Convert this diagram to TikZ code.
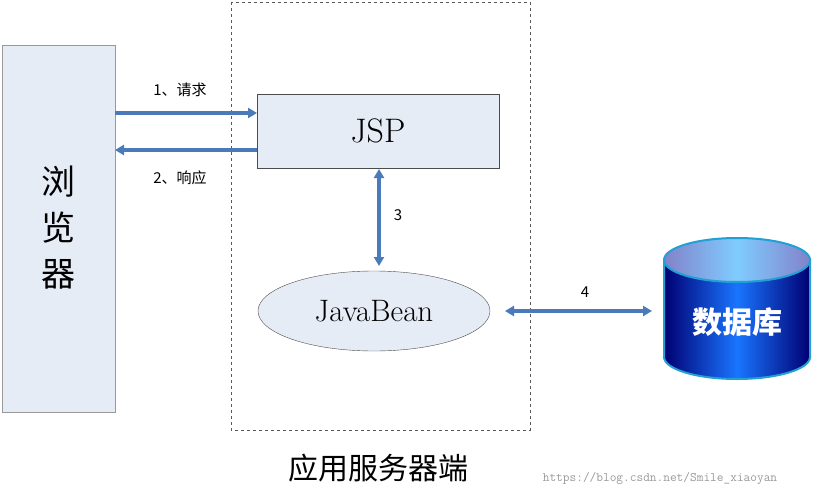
\documentclass[tikz,border=0pt]{standalone}
\usepackage{fontspec}
\newfontfamily\cjk{Noto Sans CJK SC}
\usetikzlibrary{arrows.meta,shapes.geometric}
\definecolor{arr}{RGB}{74,122,186}
\definecolor{boxf}{RGB}{230,236,246}
\begin{document}
\begin{tikzpicture}[x=1pt,y=-1pt,
  link/.style={draw=arr,line width=3.5pt,{Triangle[length=9pt,width=10pt]}-{Triangle[length=9pt,width=10pt]}},
  oneway/.style={draw=arr,line width=3.5pt,-{Triangle[length=9pt,width=10pt]}},
  lab/.style={font=\cjk\fontsize{15}{18}\selectfont}]
\useasboundingbox (0,0) rectangle (818,497);
\node[draw=gray!80,fill=boxf,minimum width=113pt,minimum height=367pt,inner sep=0pt] (br) at (58.5,228.5) {};
\node[font=\cjk\fontsize{34}{46}\selectfont,align=center] (brt) at (58.5,228) {浏\\览\\器};
\draw[dashed,gray!70!black,line width=0.6pt] (231,2) rectangle (530,430);
\node[draw=black!70,fill=boxf,minimum width=242pt,minimum height=74pt,inner sep=0pt,font=\fontsize{34}{40}\selectfont] (jsp) at (378,131) {JSP};
\node[draw=black!70,fill=boxf,ellipse,minimum width=232pt,minimum height=80pt,inner sep=0pt,font=\fontsize{31}{36}\selectfont] (jb) at (374,311) {JavaBean};
\coordinate (b1) at (115,113); \coordinate (j1) at (257,113);
\coordinate (b2) at (115,150); \coordinate (j2) at (257,150);
\draw[oneway] (b1) -- (j1);
\draw[oneway] (j2) -- (b2);
\node[lab] (l1) at (180,90) {1、请求};
\node[lab] (l2) at (180,178) {2、响应};
\coordinate (v1) at (379,169); \coordinate (v2) at (379,266);
\draw[link] (v1) -- (v2);
\node[lab] (l3) at (398,215) {3};
% cylinder
\shade[left color=blue!45!black,right color=blue!45!black,middle color=blue!60!cyan!90!white] (664,260) -- (664,357) arc[start angle=180,end angle=0,x radius=73,y radius=22] -- (810,260) -- cycle;
\shade[left color=gray!60!blue!70,right color=gray!60!blue!70,middle color=blue!40!cyan!50] (737,260) ellipse[x radius=73,y radius=22];
\draw[cyan!70!teal,line width=2pt] (737,260) ellipse[x radius=73,y radius=22];
\draw[cyan!70!teal,line width=2pt] (664,260) -- (664,357) arc[start angle=180,end angle=0,x radius=73,y radius=22] -- (810,260);
\node[font=\cjk\bfseries\fontsize{30}{34}\selectfont,text=white] (db) at (737,322) {数据库};
\coordinate (db4) at (652,311); \coordinate (jb4) at (505,311);
\draw[link] (jb4) -- (db4);
\node[lab] (l4) at (585,292) {4};
\node[font=\cjk\fontsize{30}{34}\selectfont] (srv) at (378,468) {应用服务器端};
\node[font=\ttfamily\fontsize{13}{15}\selectfont,text=gray!80] (wm) at (660,478) {https://blog.csdn.net/Smile\_xiaoyan};
\end{tikzpicture}
\end{document}
